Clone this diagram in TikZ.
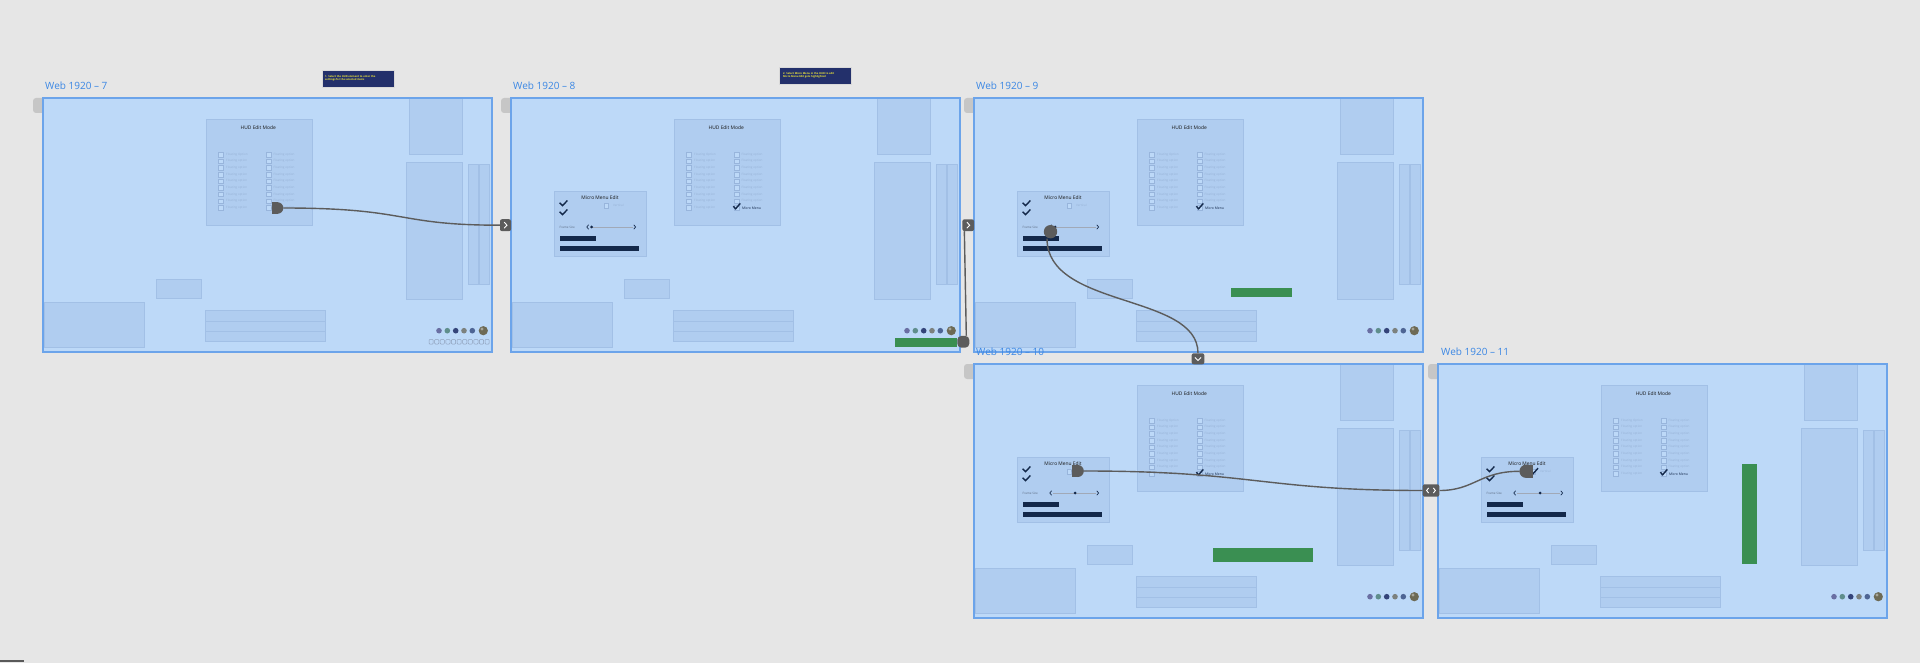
\documentclass[tikz,border=0pt]{standalone}
\usepackage{fontspec}
\setmainfont{Open Sans}
\usetikzlibrary{calc}
\definecolor{bg}{HTML}{E6E6E6}
\definecolor{framefill}{HTML}{BDD9F8}
\definecolor{frameline}{HTML}{6CA4EA}
\definecolor{boxfill}{HTML}{B0CDF0}
\definecolor{boxline}{HTML}{A2C0E6}
\definecolor{labelblue}{HTML}{3B87E4}
\definecolor{wirecol}{HTML}{5C5C5C}
\definecolor{navy}{HTML}{13284A}
\definecolor{greenbar}{HTML}{3A8F52}
\definecolor{notebg}{HTML}{23306B}
\definecolor{noteyel}{HTML}{F0E838}
\definecolor{grip}{HTML}{C6C6C6}
\definecolor{optgray}{HTML}{97B2D6}
\definecolor{cbline}{HTML}{98B5DC}
\definecolor{iconline}{HTML}{8EA0BA}
\definecolor{av1}{HTML}{6A6FA3}
\definecolor{av2}{HTML}{5F8E8C}
\definecolor{av3}{HTML}{34447A}
\definecolor{av4}{HTML}{7C817E}
\definecolor{av5}{HTML}{4E6594}
\definecolor{av6}{HTML}{6D6A55}
\tikzset{
  inbox/.style={fill=boxfill,draw=boxline,line width=0.6pt},
  frameedge/.style={draw=frameline,line width=1.3pt},
  hudtitle/.style={font=\fontsize{4.9}{5.4}\selectfont,text=black!90,inner sep=0},
  optlabel/.style={font=\fontsize{3}{3.5}\selectfont,text=optgray,anchor=west,inner sep=0},
  darklabel/.style={font=\fontsize{3.4}{3.9}\selectfont,text=navy,anchor=west,inner sep=0},
  cbox/.style={draw=cbline,line width=0.4pt,fill=framefill},
  tickmark/.style={draw=navy,line width=1.4pt},
  chev/.style={draw=navy,line width=0.7pt},
  wirestyle/.style={draw=wirecol,line width=1.4pt},
  tabnode/.style={fill=wirecol,rounded corners=2pt,inner sep=0},
  blobnode/.style={fill=wirecol,inner sep=0},
  tabchev/.style={draw=white,line width=0.9pt},
  framelabel/.style={font=\fontsize{10}{12}\selectfont,text=labelblue,anchor=west,inner sep=0},
  notebox/.style={fill=notebg,draw=black!15,line width=0.6pt,minimum width=72pt,minimum height=17pt,inner sep=0},
  notetext/.style={font=\bfseries\fontsize{2.6}{3.3}\selectfont,text=noteyel,align=left,inner sep=0},
}
% ---------- screen building blocks (drawn inside a shifted scope) ----------
\newcommand\basescreen{%
  \fill[grip,rounded corners=3pt] (-10,0) rectangle (2,15);
  \fill[framefill] (0,0) rectangle (449,254);
  \draw[inbox] (366,0) rectangle (419.3,56.3);
  \draw[inbox] (363,64.3) rectangle (419.3,201.3);
  \draw[inbox] (425.3,66.3) rectangle (435.3,186.3);
  \draw[inbox] (436,66.3) rectangle (446.3,186.3);
  \draw[inbox] (113.3,181.3) rectangle (158,200.7);
  \draw[inbox] (1.3,204.3) rectangle (101,249.7);
  \draw[inbox] (162.7,212.7) rectangle (282.3,223.3);
  \draw[inbox] (162.7,223.3) rectangle (282.3,233.7);
  \draw[inbox] (162.7,233.7) rectangle (282.3,243.7);
  \draw[inbox] (163,21) rectangle (269,127);
  \node[hudtitle] at (215.3,29.7) {HUD Edit Mode};
  \foreach \i in {0,...,7}{%
    \pgfmathsetmacro\yy{56.5+6.65*\i}
    \draw[cbox] (175.3,\yy-2.3) rectangle (180,\yy+2.3);
    \node[optlabel] at (183,\yy) {\ifnum\i=0 Floating Option\else Floating option\fi};
    \draw[cbox] (223.3,\yy-2.3) rectangle (228,\yy+2.3);
    \node[optlabel] at (230.3,\yy) {Floating option};
  }
  \draw[cbox] (175.3,107.4) rectangle (180,112);
  \node[optlabel] at (183,109.7) {Floating option};
  \fill[av1] (396,232.7) circle (2.8);
  \fill[av2] (404.3,232.7) circle (2.8);
  \fill[av3] (412.7,232.7) circle (2.8);
  \fill[av4] (421,232.7) circle (2.8);
  \fill[av5] (429.3,232.7) circle (2.8);
  \fill[av6] (440.3,232.7) circle (4.6);
  \fill[av6!60!white] (439,231) circle (1.6);
}
\newcommand\hudplain{%
  \draw[cbox] (223.3,107.4) rectangle (228,112);
  \node[optlabel] at (230.3,109.7) {Floating option};
}
\newcommand\hudchecked{%
  \draw[cbox] (223.3,107.4) rectangle (228,112);
  \draw[tickmark] (222.3,108.2) -- (224.6,110.8) -- (229.3,105.4);
  \node[darklabel] at (230.8,110.2) {Micro Menu};
}
\newcommand\micromenu[1]{%
  \draw[inbox] (43.3,93.7) rectangle (135.3,158);
  \node[hudtitle] at (89,99.3) {Micro Menu Edit};
  \draw[tickmark] (48.6,104.8) -- (51.5,107.7) -- (56.4,102.5);
  \draw[tickmark] (48.6,113.8) -- (51.5,116.7) -- (56.4,111.5);
  \draw[cbox] (93,105.2) rectangle (97.2,110.4);
  \node[optlabel] at (102,107.7) {Vertical};
  \node[optlabel,text=navy!70] at (48.5,129) {Frame Size};
  \draw[chev] (77.6,126.8) -- (75.8,129) -- (77.6,131.2);
  \draw[draw=navy!40,line width=0.4pt] (79,129) -- (122,129);
  \draw[chev] (122.8,126.8) -- (124.6,129) -- (122.8,131.2);
  \fill[navy] (#1,127.5) -- (#1+1.5,129) -- (#1,130.5) -- (#1-1.5,129) -- cycle;
  \fill[navy] (49,138.3) rectangle (85,143.3);
  \fill[navy] (49,147.7) rectangle (127.7,153.3);
}
\newcommand\frameedge{\draw[frameedge] (0,0) rectangle (449,254);}

\begin{document}
\begin{tikzpicture}[x=1pt,y=-1pt]
\useasboundingbox (0,0) rectangle (1920,663);
\fill[bg] (0,0) rectangle (1920,663);
\draw[draw=black!65,line width=1.5pt] (0,661) -- (24,661);

% ---------- Web 1920 - 7 ----------
\begin{scope}[shift={(43,98)}]
  \basescreen
  \hudplain
  \foreach \k in {0,...,10}{%
    \draw[draw=iconline,line width=0.5pt,rounded corners=0.8pt]
      (386+5.6*\k,241.5) rectangle (390.2+5.6*\k,246);
  }
  \frameedge
\end{scope}
% ---------- Web 1920 - 8 ----------
\begin{scope}[shift={(511,98)}]
  \basescreen
  \hudchecked
  \micromenu{80.7}
  \fill[greenbar] (384,239.7) rectangle (445.7,248.7);
  \frameedge
\end{scope}
% ---------- Web 1920 - 9 ----------
\begin{scope}[shift={(974,98)}]
  \basescreen
  \hudchecked
  \micromenu{81}
  \fill[greenbar] (256.7,190) rectangle (318.3,198.7);
  \frameedge
\end{scope}
% ---------- Web 1920 - 10 ----------
\begin{scope}[shift={(974,364)}]
  \basescreen
  \hudchecked
  \micromenu{101}
  \fill[greenbar] (239.3,184.3) rectangle (339.3,198.3);
  \frameedge
\end{scope}
% ---------- Web 1920 - 11 ----------
\begin{scope}[shift={(1438,364)}]
  \basescreen
  \hudchecked
  \micromenu{102}
  \draw[tickmark] (92.6,106.8) -- (95.2,109.6) -- (100,104.2);
  \fill[greenbar] (304,100.3) rectangle (319,200);
  \frameedge
\end{scope}

% ---------- frame labels ----------
\node[framelabel] (l7) at (45,86) {Web 1920 – 7};
\node[framelabel] (l8) at (513,86) {Web 1920 – 8};
\node[framelabel] (l9) at (976,86) {Web 1920 – 9};
\node[framelabel] (l10) at (976,352) {Web 1920 – 10};
\node[framelabel] (l11) at (1441,352) {Web 1920 – 11};

% ---------- notes ----------
\node[notebox] (n1) at (357.8,78.8) {};
\node[notetext,anchor=west] (n1t) at (325,78.2) {1. Select the HUD element to enter the\\settings for the selected items};
\node[notebox] (n2) at (815.5,75.8) {};
\node[notetext,anchor=west] (n2t) at (783,75.2) {2. Select Micro Menu in the HUD to edit\\Micro Menu Edit gets highlighted};

% ---------- tabs (connector targets) ----------
\node[tabnode,minimum width=11pt,minimum height=12pt] (t8) at (505.5,225.2) {};
\draw[tabchev] (504.2,222.2) -- (507,225.2) -- (504.2,228.2);
\node[tabnode,minimum width=11.7pt,minimum height=11.7pt] (t9) at (968.2,225.2) {};
\draw[tabchev] (966.9,222.2) -- (969.7,225.2) -- (966.9,228.2);
\node[tabnode,minimum width=12.6pt,minimum height=11pt] (t10) at (1198,358.8) {};
\draw[tabchev] (1195,357.4) -- (1198,360.4) -- (1201,357.4);
\node[tabnode,minimum width=16.6pt,minimum height=12.4pt] (t11) at (1431,490.5) {};
\draw[tabchev] (1428.6,488) -- (1426.6,490.5) -- (1428.6,493);
\draw[tabchev] (1433.4,488) -- (1435.4,490.5) -- (1433.4,493);

% ---------- hotspot handles ----------
\coordinate (d7) at (283.3,208);
\coordinate (d10) at (1083.6,471);
\coordinate (d11) at (1519.5,471.3);
\node[blobnode,rounded corners=4pt,minimum width=12pt,minimum height=11.7pt] (b8) at (963.3,341.8) {};
\node[blobnode,circle,minimum size=13.4pt] (b9) at (1050.5,231.7) {};

% ---------- connectors ----------
\draw[wirestyle] (d7) .. controls (410,208) and (395,225.2) .. (t8.west);
\draw[wirestyle] ([xshift=3pt]b8.north) -- ([xshift=2.2pt]t9.south west);
\draw[wirestyle] ([xshift=-3.5pt]b9.south) .. controls +(0,70) and +(0,-60) .. (t10.north);
\draw[wirestyle] (d10) .. controls +(170,0) and +(-160,0) .. (t11.west);
\draw[wirestyle] (d11) .. controls +(-40,0) and +(35,0) .. (t11.east);

% handle shapes on top of the wires
\fill[wirecol] (271.7,202.2) rectangle (277.5,213.8);
\fill[wirecol] (277.5,208) circle (5.8);
\fill[wirecol] (1072.3,465) rectangle (1077.8,477);
\fill[wirecol] (1077.8,471) circle (6);
\fill[wirecol] (1526,464.6) rectangle (1532.7,478);
\fill[wirecol] (1526,471.3) circle (6.6);
\end{tikzpicture}
\end{document}
